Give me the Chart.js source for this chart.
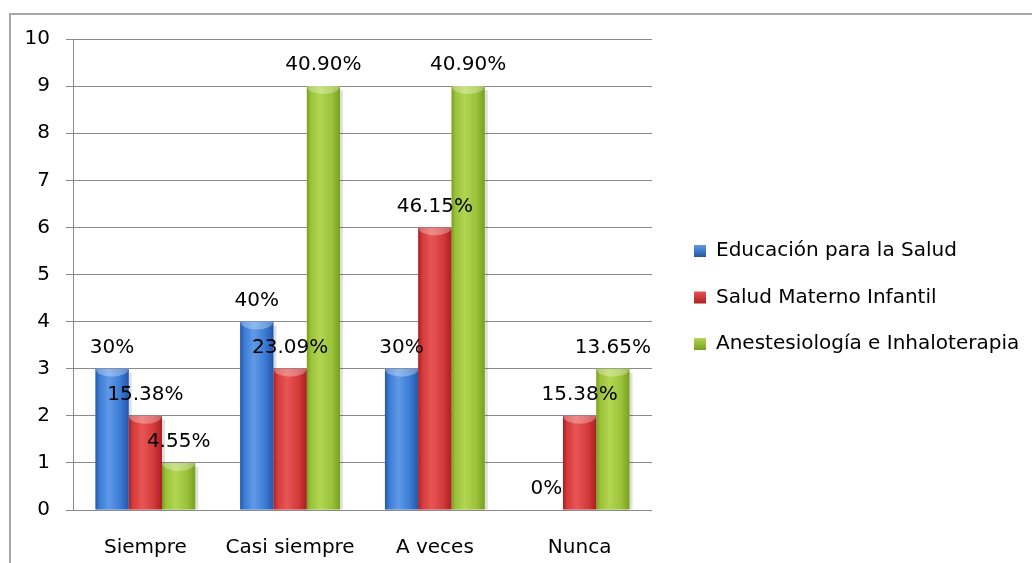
<!DOCTYPE html>
<html>
<head>
<meta charset="utf-8">
<script src="https://cdn.jsdelivr.net/npm/chart.js@4.4.1/dist/chart.umd.min.js"></script>
<style>
    html, body { margin: 0; padding: 0; background: #fff; overflow: hidden; }
    #wrap { position: relative; width: 1032px; height: 563px; }
    #frame {
        position: absolute; left: 9px; top: 13px; right: -10px; bottom: -10px;
        border-top: 2px solid #a6a6a6; border-left: 2px solid #a6a6a6;
    }
    canvas { position: absolute; left: 0; top: 0; }
</style>
</head>
<body>
<div id="wrap">
    <div id="frame"></div>
    <canvas id="chart" width="1032" height="563"></canvas>
</div>
<script>
const categories = ['Siempre', 'Casi siempre', 'A veces', 'Nunca'];
const seriesNames = ['Educación para la Salud', 'Salud Materno Infantil', 'Anestesiología e Inhaloterapia'];

const educacion = [3, 4, 3, 0];
const materno = [2, 3, 6, 2];
const anestesia = [1, 9, 9, 3];

// percentage text shown over each bar
const educacionPct = ['30%', '40%', '30%', '0%'];
const maternoPct = ['15.38%', '23.09%', '46.15%', '15.38%'];
const anestesiaPct = ['4.55%', '40.90%', '40.90%', '13.65%'];

const yTicks = [0, 1, 2, 3, 4, 5, 6, 7, 8, 9, 10];

const FONT = { family: '"DejaVu Sans", sans-serif', size: 20 };

// dark edge / light highlight / mid body for the cylinder look
const tones = [
    { base: '#3c7dd6', dark: '#2456a6', light: '#5f9ae6', mid: '#3b7bd4' },
    { base: '#d63b3b', dark: '#a81f22', light: '#e85555', mid: '#d43a3a' },
    { base: '#9cc43a', dark: '#77a020', light: '#b2d552', mid: '#9ac23a' }
];

const pctLabels = [educacionPct, maternoPct, anestesiaPct];

const barStyle = {
    id: 'barStyle',
    afterDatasetsDraw(chart) {
        const ctx = chart.ctx;

        chart.data.datasets.forEach((ds, i) => {
            const meta = chart.getDatasetMeta(i);
            const t = tones[i];
            meta.data.forEach(bar => {
                const { x, y, base, width } = bar.getProps(['x', 'y', 'base', 'width'], true);
                const left = x - width / 2;
                const h = base - y;
                if (h <= 0) return;

                ctx.save();
                // soft shadow to the right
                ctx.fillStyle = 'rgba(0,0,0,0.12)';
                ctx.fillRect(left + width, y + 4, 3, h - 4);

                ctx.beginPath();
                ctx.rect(left, y, width, h);
                ctx.clip();

                const g = ctx.createLinearGradient(left, 0, left + width, 0);
                g.addColorStop(0, t.dark);
                g.addColorStop(0.12, t.mid);
                g.addColorStop(0.4, t.light);
                g.addColorStop(0.75, t.mid);
                g.addColorStop(1, t.dark);
                ctx.fillStyle = g;
                ctx.fillRect(left, y, width, h);

                // rounded top face
                ctx.beginPath();
                ctx.ellipse(x, y, width / 2, 8, 0, 0, Math.PI * 2);
                ctx.fillStyle = 'rgba(255,255,255,0.3)';
                ctx.fill();
                ctx.restore();
            });
        });

        // value labels on top of everything
        ctx.save();
        ctx.font = `${FONT.size}px ${FONT.family}`;
        ctx.fillStyle = '#000';
        ctx.textAlign = 'center';
        ctx.textBaseline = 'middle';
        chart.data.datasets.forEach((ds, i) => {
            chart.getDatasetMeta(i).data.forEach((bar, j) => {
                const { x, y } = bar.getProps(['x', 'y'], true);
                ctx.fillText(pctLabels[i][j], x, y - 21);
            });
        });
        ctx.restore();
    },
    afterDraw(chart) {
        const ctx = chart.ctx;
        const lx = 694, ly = 251, gap = 46.5, box = 12;
        ctx.save();
        ctx.font = `${FONT.size}px ${FONT.family}`;
        ctx.textBaseline = 'middle';
        ctx.textAlign = 'left';
        chart.data.datasets.forEach((ds, i) => {
            const cy = ly + i * gap;
            const t = tones[i];
            const g = ctx.createLinearGradient(lx, cy - box / 2, lx, cy + box / 2);
            g.addColorStop(0, t.light);
            g.addColorStop(1, t.dark);
            ctx.fillStyle = g;
            ctx.fillRect(lx, cy - box / 2, box, box);
            ctx.fillStyle = '#000';
            ctx.fillText(ds.label, lx + box + 10, cy);
        });
        ctx.restore();
    }
};

const ctx = document.getElementById('chart').getContext('2d');
new Chart(ctx, {
    type: 'bar',
    data: {
        labels: categories,
        datasets: [
            { label: seriesNames[0], data: educacion, backgroundColor: tones[0].base },
            { label: seriesNames[1], data: materno, backgroundColor: tones[1].base },
            { label: seriesNames[2], data: anestesia, backgroundColor: tones[2].base }
        ]
    },
    options: {
        responsive: false,
        animation: false,
        devicePixelRatio: 1,
        layout: { padding: { top: 39, right: 380, left: 0, bottom: 0 } },
        datasets: {
            bar: { barPercentage: 1, categoryPercentage: 0.69, borderWidth: 0 }
        },
        plugins: {
            legend: { display: false },
            tooltip: { enabled: false }
        },
        scales: {
            x: {
                grid: { display: false, drawTicks: false },
                border: { display: false },
                ticks: { font: FONT, color: '#000', padding: 26 },
                afterFit(scale) { scale.height = 53; }
            },
            y: {
                min: 0,
                max: 10,
                afterBuildTicks(scale) { scale.ticks = yTicks.map(v => ({ value: v })); },
                ticks: { font: FONT, color: '#000', padding: 16 },
                grid: { color: '#8a8a8a', tickLength: 7, lineWidth: 1 },
                border: { color: '#8a8a8a', width: 1 },
                afterFit(scale) { scale.width = 73; }
            }
        }
    },
    plugins: [barStyle]
});
</script>
</body>
</html>
